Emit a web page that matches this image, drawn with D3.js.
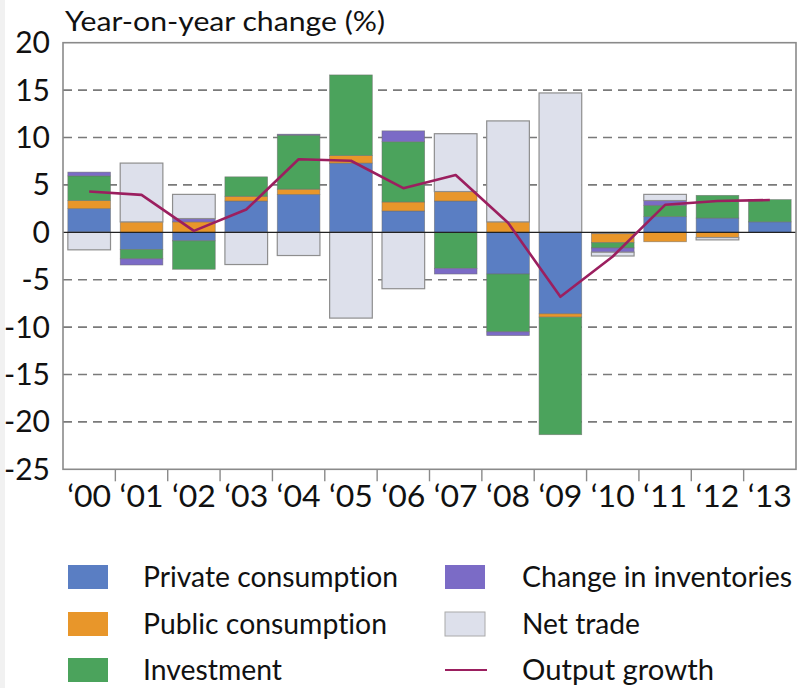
<!DOCTYPE html>
<html>
<head>
<meta charset="utf-8">
<script src="https://cdn.jsdelivr.net/npm/d3@7/dist/d3.min.js"></script>
<style>
  html, body { margin: 0; padding: 0; background: #fff; }
  svg { display: block; }
  text { font-family: Lato, "Open Sans", sans-serif; fill: #111; font-variant-ligatures: none; font-feature-settings: "liga" 0, "clig" 0; }
</style>
</head>
<body>
<svg id="chart" width="798" height="688"></svg>
<script>
const years = ["‘00","‘01","‘02","‘03","‘04","‘05","‘06","‘07","‘08","‘09","‘10","‘11","‘12","‘13"];
const privateConsumption = [2.5, -1.8, -0.9, 3.3, 4.0, 7.3, 2.25, 3.3, -4.4, -8.6, -0.15, 1.65, 1.5, 1.1];
const publicConsumption  = [0.85, 1.1, 1.1, 0.5, 0.55, 0.8, 0.95, 1.0, 1.1, -0.35, -0.95, -1.0, -0.55, 0];
const investment         = [2.6, -1.0, -3.0, 2.05, 5.7, 8.5, 6.35, -3.8, -6.1, -12.4, -0.55, 1.2, 2.4, 2.35];
const inventories        = [0.4, -0.65, 0.35, 0, 0.1, 0, 1.15, -0.6, -0.4, 0, -0.45, 0.5, 0, 0];
const netTrade           = [-1.85, 6.2, 2.55, -3.4, -2.45, -9.05, -5.95, 6.1, 10.65, 14.7, -0.4, 0.65, -0.25, 0];
const outputGrowth       = [4.3, 3.95, 0.15, 2.4, 7.7, 7.55, 4.65, 6.05, 1.0, -6.8, -2.55, 2.9, 3.3, 3.4];
const yTicks = [20, 15, 10, 5, 0, -5, -10, -15, -20, -25];

const seriesKeys = ["private", "public", "investment", "inventories", "netTrade"];
const seriesNames = {
  private: "Private consumption", public: "Public consumption", investment: "Investment",
  inventories: "Change in inventories", netTrade: "Net trade"
};
const colors = {
  private: "#5a7ec3", public: "#e8962a", investment: "#4ba35c",
  inventories: "#7b6bc6", netTrade: "#dde0eb"
};
const lineColor = "#9b1f5f";

const table = years.map((y, i) => ({
  year: y,
  private: privateConsumption[i], public: publicConsumption[i], investment: investment[i],
  inventories: inventories[i], netTrade: netTrade[i], output: outputGrowth[i]
}));

const svg = d3.select("#chart");
const m = { left: 63, right: 796, top: 42.7, bottom: 469.3 };

const x = d3.scaleBand().domain(years).range([m.left, m.right]).paddingInner(0.185).paddingOuter(0.0925);
const xb = d3.scaleBand().domain(years).range([m.left, m.right]);
const y = d3.scaleLinear().domain([-25, 20]).range([m.bottom, m.top]);

// light strip at left edge
svg.append("rect").attr("x", 0).attr("y", 0).attr("width", 5).attr("height", 688).attr("fill", "#f1f1f1");

// gridlines
svg.append("g").selectAll("line").data(yTicks.filter(t => t !== 0 && t !== 20 && t !== -25)).join("line")
  .attr("x1", m.left).attr("x2", m.right)
  .attr("y1", d => y(d)).attr("y2", d => y(d))
  .attr("stroke", "#7a7a7a").attr("stroke-width", 1.6).attr("stroke-dasharray", "9,6");

// stacked bars
const stack = d3.stack().keys(seriesKeys).offset(d3.stackOffsetDiverging);
const stacked = stack(table);
const gBars = svg.append("g");
stacked.forEach(layer => {
  gBars.append("g").selectAll("rect").data(layer.filter(d => d[1] !== d[0])).join("rect")
    .attr("x", d => x(d.data.year))
    .attr("width", x.bandwidth())
    .attr("y", d => y(Math.max(d[0], d[1])))
    .attr("height", d => Math.abs(y(d[0]) - y(d[1])))
    .attr("fill", colors[layer.key])
    .attr("stroke", layer.key === "netTrade" ? "#8e8e8e" : "#6e6e6e")
    .attr("stroke-width", layer.key === "netTrade" ? 1.2 : 0.7)
    .attr("stroke-opacity", layer.key === "netTrade" ? 1 : 0.7);
});

// zero line
svg.append("line").attr("x1", m.left).attr("x2", m.right).attr("y1", y(0)).attr("y2", y(0))
  .attr("stroke", "#222").attr("stroke-width", 1.3);

// output growth line
svg.append("path").datum(table)
  .attr("d", d3.line().x(d => xb(d.year) + xb.bandwidth() / 2).y(d => y(d.output)))
  .attr("fill", "none").attr("stroke", lineColor).attr("stroke-width", 2.6).attr("stroke-linejoin", "round");

// frame
svg.append("rect").attr("x", m.left).attr("y", m.top).attr("width", m.right - m.left).attr("height", m.bottom - m.top)
  .attr("fill", "none").attr("stroke", "#8a8a8a").attr("stroke-width", 1.6);

// x axis: tick marks at band boundaries, labels centred
svg.append("g").selectAll("line").data(years.slice(1)).join("line")
  .attr("x1", d => xb(d)).attr("x2", d => xb(d))
  .attr("y1", m.bottom).attr("y2", m.bottom + 12)
  .attr("stroke", "#8a8a8a").attr("stroke-width", 1.4);
svg.append("g").selectAll("text").data(years).join("text")
  .attr("x", d => xb(d) + xb.bandwidth() / 2)
  .attr("y", 507)
  .attr("text-anchor", "middle")
  .attr("font-size", 31)
  .attr("textLength", 44).attr("lengthAdjust", "spacingAndGlyphs")
  .text(d => d);

// y axis labels
svg.append("g").selectAll("text").data(yTicks).join("text")
  .attr("x", 50).attr("y", d => y(d) + 10.5)
  .attr("text-anchor", "end")
  .attr("font-size", 30)
  .text(d => d);

// title
svg.append("text").attr("x", 65).attr("y", 31).attr("font-size", 26)
  .attr("textLength", 320).attr("lengthAdjust", "spacingAndGlyphs")
  .text("Year-on-year change (%)");

// legend
const legendItems = [
  { key: "private", col: 0, row: 0, w: 255 },
  { key: "public", col: 0, row: 1, w: 244 },
  { key: "investment", col: 0, row: 2, w: 139 },
  { key: "inventories", col: 1, row: 0, w: 270 },
  { key: "netTrade", col: 1, row: 1, w: 118 },
  { key: "output", col: 1, row: 2, w: 192 }
];
const colX = [68, 445], textX = [143, 522], rowY = [577, 624, 670];
const lg = svg.append("g");
legendItems.forEach(it => {
  const cy = rowY[it.row];
  if (it.key === "output") {
    lg.append("line").attr("x1", colX[it.col]).attr("x2", colX[it.col] + 42)
      .attr("y1", cy).attr("y2", cy).attr("stroke", lineColor).attr("stroke-width", 2);
  } else {
    lg.append("rect").attr("x", colX[it.col]).attr("y", cy - 12).attr("width", 40).attr("height", 24)
      .attr("fill", colors[it.key])
      .attr("stroke", it.key === "netTrade" ? "#aaa" : "none").attr("stroke-width", 1);
  }
  lg.append("text").attr("x", textX[it.col]).attr("y", cy + 9.5).attr("font-size", 29)
    .attr("textLength", it.w).attr("lengthAdjust", "spacingAndGlyphs")
    .text(it.key === "output" ? "Output growth" : seriesNames[it.key]);
});
</script>
</body>
</html>
